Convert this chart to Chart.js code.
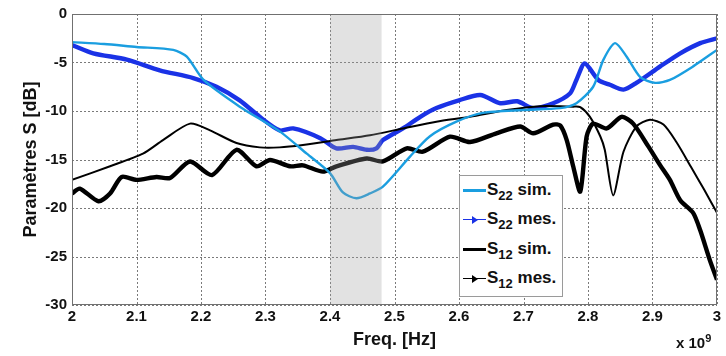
<!DOCTYPE html>
<html>
<head>
<meta charset="utf-8">
<script src="https://cdn.jsdelivr.net/npm/chart.js@4.4.1/dist/chart.umd.min.js"></script>
<style>
  body { margin: 0; background: #fff; }
  #wrap { position: relative; width: 726px; height: 356px; font-family: "Liberation Sans", Arial, sans-serif; font-weight: bold; }
  #legend { position: absolute; left: 459px; top: 175px; width: 102px; height: 120px; border: 1px solid #9a9a9a; background: #fff; }
  .row { position: absolute; left: 0; width: 100%; height: 20px; }
  .swatch { position: absolute; left: 3px; top: 9px; width: 23px; height: 0; border-top: 3px solid; }
  .swatch.thin { border-top-width: 1px; top: 10px; }
  .tri { position: absolute; left: 12px; top: 7px; width: 0; height: 0; border-top: 4px solid transparent; border-bottom: 4px solid transparent; border-left: 6px solid; }
  .lbl { position: absolute; left: 27px; top: 0; font-size: 17px; line-height: 20px; white-space: nowrap; color: #111; }
  .lbl sub { font-size: 13px; vertical-align: -5px; line-height: 0; }
  #expo { position: absolute; left: 676px; top: 334px; font-size: 15px; color: #111; }
  #expo sup { font-size: 11px; vertical-align: 6px; line-height: 0; }
</style>
</head>
<body>
<div id="wrap">
  <canvas id="chart" width="726" height="356"></canvas>
  <div id="legend">
    <div class="row" style="top:4px"><div class="swatch" style="border-color:#1a9ee0"></div><div class="lbl">S<sub>22</sub> sim.</div></div>
    <div class="row" style="top:33px"><div class="swatch thin" style="border-color:#1a32e6"></div><div class="tri" style="border-left-color:#1a32e6"></div><div class="lbl">S<sub>22</sub> mes.</div></div>
    <div class="row" style="top:63px"><div class="swatch" style="border-color:#000"></div><div class="lbl">S<sub>12</sub> sim.</div></div>
    <div class="row" style="top:92px"><div class="swatch thin" style="border-color:#000"></div><div class="tri" style="border-left-color:#000"></div><div class="lbl">S<sub>12</sub> mes.</div></div>
  </div>
  <div id="expo">x 10<sup>9</sup></div>
</div>
<script>
// frequency in GHz (axis shows x 10^9), values in dB
const xTicks = [2, 2.1, 2.2, 2.3, 2.4, 2.5, 2.6, 2.7, 2.8, 2.9, 3];
const yTicks = [-30, -25, -20, -15, -10, -5, 0];
const band = [2.40, 2.48];

const s22SimFreq = [2.0, 2.05, 2.1, 2.157, 2.178, 2.204, 2.26, 2.322, 2.364, 2.4, 2.42, 2.441, 2.462, 2.482, 2.524, 2.555, 2.596, 2.637, 2.699, 2.757, 2.782, 2.808, 2.824, 2.842, 2.86, 2.881, 2.904, 2.927, 2.963, 3.0];
const s22SimDb = [-2.9, -3.1, -3.4, -3.7, -4.4, -6.8, -9.55, -12.1, -14.4, -16.4, -18.4, -19.0, -18.5, -17.8, -14.7, -12.6, -11.1, -10.2, -9.9, -9.7, -9.2, -7.5, -4.7, -3.0, -4.4, -6.5, -7.1, -6.8, -5.4, -3.7];

const s22MesFreq = [2.0, 2.033, 2.085, 2.136, 2.188, 2.224, 2.26, 2.291, 2.322, 2.343, 2.385, 2.41, 2.436, 2.457, 2.472, 2.482, 2.513, 2.54, 2.565, 2.6, 2.633, 2.664, 2.69, 2.715, 2.746, 2.772, 2.782, 2.795, 2.816, 2.834, 2.855, 2.875, 2.912, 2.943, 2.974, 3.0];
const s22MesDb = [-3.2, -4.05, -4.7, -5.8, -6.6, -7.5, -8.9, -10.6, -12.0, -11.8, -12.8, -13.85, -13.7, -14.0, -13.85, -13.0, -11.8, -10.6, -9.7, -8.9, -8.35, -9.2, -9.0, -9.7, -9.2, -8.2, -6.8, -5.1, -6.8, -7.3, -7.8, -7.1, -5.4, -4.05, -3.0, -2.5];

const s12SimFreq = [2.0, 2.059, 2.11, 2.141, 2.183, 2.214, 2.255, 2.291, 2.322, 2.358, 2.41, 2.462, 2.513, 2.565, 2.617, 2.674, 2.726, 2.777, 2.788, 2.803, 2.819, 2.826, 2.839, 2.855, 2.875, 2.896, 2.917, 2.937, 2.96, 2.98, 3.0];
const s12SimDb = [-17.1, -15.7, -14.4, -13.0, -11.3, -12.0, -13.3, -13.75, -13.75, -13.5, -13.0, -12.5, -11.8, -11.1, -10.6, -9.9, -9.5, -9.55, -9.6, -10.6, -12.6, -14.0, -18.7, -14.2, -11.6, -10.9, -11.4, -13.2, -15.8, -18.1, -20.5];

const s12MesFreq = [2.0, 2.012, 2.041, 2.059, 2.077, 2.1, 2.131, 2.152, 2.183, 2.217, 2.255, 2.286, 2.307, 2.338, 2.358, 2.389, 2.41, 2.457, 2.482, 2.519, 2.544, 2.586, 2.617, 2.658, 2.695, 2.715, 2.746, 2.757, 2.767, 2.777, 2.788, 2.798, 2.808, 2.829, 2.852, 2.87, 2.893, 2.912, 2.927, 2.943, 2.963, 2.974, 2.989, 3.0];
const s12MesDb = [-18.5, -18.0, -19.3, -18.5, -16.8, -17.1, -16.8, -16.9, -15.2, -16.6, -14.0, -15.7, -15.05, -15.7, -15.6, -16.25, -15.7, -14.9, -15.2, -13.85, -14.2, -12.65, -13.2, -12.3, -11.6, -12.3, -11.4, -11.5, -13.0, -15.7, -18.3, -12.6, -11.3, -11.8, -10.6, -11.3, -13.6, -15.6, -17.1, -19.2, -20.5, -22.3, -25.4, -27.4];

function toPoints(freq, db) {
    return freq.map((f, i) => ({x: f, y: db[i]}));
}

const FONT = '"Liberation Sans", Arial, sans-serif';

// dotted matlab grid under the curves, from the scales' tick values
const gridPlugin = {
    id: 'matlabGrid',
    beforeDatasetsDraw(chart) {
        const {ctx, chartArea, scales} = chart;
        ctx.save();
        ctx.strokeStyle = '#7a7a7a';
        ctx.lineWidth = 1;
        ctx.setLineDash([2, 2]);
        ctx.beginPath();
        xTicks.forEach(v => {
            const px = Math.round(scales.x.getPixelForValue(v)) + 0.5;
            ctx.moveTo(px, chartArea.top);
            ctx.lineTo(px, chartArea.bottom);
        });
        yTicks.forEach(v => {
            const py = Math.round(scales.y.getPixelForValue(v)) + 0.5;
            ctx.moveTo(chartArea.left, py);
            ctx.lineTo(chartArea.right, py);
        });
        ctx.stroke();
        ctx.restore();
    }
};

// grey band (ISM 2.4 GHz) over the curves, semi transparent, then the axes box
const bandPlugin = {
    id: 'ismBand',
    afterDatasetsDraw(chart) {
        const {ctx, chartArea, scales} = chart;
        const x1 = scales.x.getPixelForValue(band[0]);
        const x2 = scales.x.getPixelForValue(band[1]);
        ctx.save();
        ctx.fillStyle = 'rgba(160,160,160,0.30)';
        ctx.fillRect(x1, chartArea.top, x2 - x1, chartArea.bottom - chartArea.top);
        ctx.strokeStyle = '#707070';
        ctx.lineWidth = 1;
        ctx.strokeRect(Math.round(chartArea.left) + 0.5, Math.round(chartArea.top) + 0.5,
            Math.round(chartArea.right - chartArea.left) - 1, Math.round(chartArea.bottom - chartArea.top) - 1);
        ctx.restore();
    }
};

new Chart(document.getElementById('chart'), {
    type: 'line',
    data: {
        datasets: [
            {
                label: 'S22 sim.',
                data: toPoints(s22SimFreq, s22SimDb),
                borderColor: '#1a9ee0',
                borderWidth: 2.4,
                pointRadius: 0,
                tension: 0.25,
                order: 0
            },
            {
                label: 'S22 mes.',
                data: toPoints(s22MesFreq, s22MesDb),
                borderColor: '#1a32e6',
                borderWidth: 4.4,
                pointRadius: 0,
                tension: 0.25,
                order: 2
            },
            {
                label: 'S12 sim.',
                data: toPoints(s12SimFreq, s12SimDb),
                borderColor: '#000',
                borderWidth: 2,
                pointRadius: 0,
                tension: 0.25,
                order: 1
            },
            {
                label: 'S12 mes.',
                data: toPoints(s12MesFreq, s12MesDb),
                borderColor: '#000',
                borderWidth: 4.4,
                pointRadius: 0,
                tension: 0.25,
                order: 3
            }
        ]
    },
    options: {
        responsive: false,
        animation: false,
        devicePixelRatio: 1,
        layout: {padding: {top: 14, right: 9, left: 0, bottom: 0}},
        plugins: {
            legend: {display: false},
            tooltip: {enabled: false}
        },
        scales: {
            x: {
                type: 'linear',
                min: 2,
                max: 3,
                afterFit: s => { s.height = 51; },
                afterBuildTicks: s => { s.ticks = xTicks.map(v => ({value: v})); },
                ticks: {
                    color: '#111',
                    padding: 3,
                    maxRotation: 0,
                    font: {family: FONT, size: 15, weight: 'bold'},
                    callback: v => String(+v.toFixed(1))
                },
                grid: {display: false, drawTicks: false},
                border: {display: false},
                title: {
                    display: true,
                    text: 'Freq. [Hz]',
                    color: '#111',
                    padding: {top: 0, bottom: 5},
                    font: {family: FONT, size: 18, weight: 'bold'}
                }
            },
            y: {
                min: -30,
                max: 0,
                afterFit: s => { s.width = 72; },
                afterBuildTicks: s => { s.ticks = yTicks.map(v => ({value: v})); },
                ticks: {
                    color: '#111',
                    padding: 5,
                    font: {family: FONT, size: 15, weight: 'bold'}
                },
                grid: {display: false, drawTicks: false},
                border: {display: false},
                title: {
                    display: true,
                    text: 'Paramètres S [dB]',
                    color: '#111',
                    padding: {top: 20, bottom: 0},
                    font: {family: FONT, size: 18, weight: 'bold'}
                }
            }
        }
    },
    plugins: [gridPlugin, bandPlugin]
});
</script>
</body>
</html>
